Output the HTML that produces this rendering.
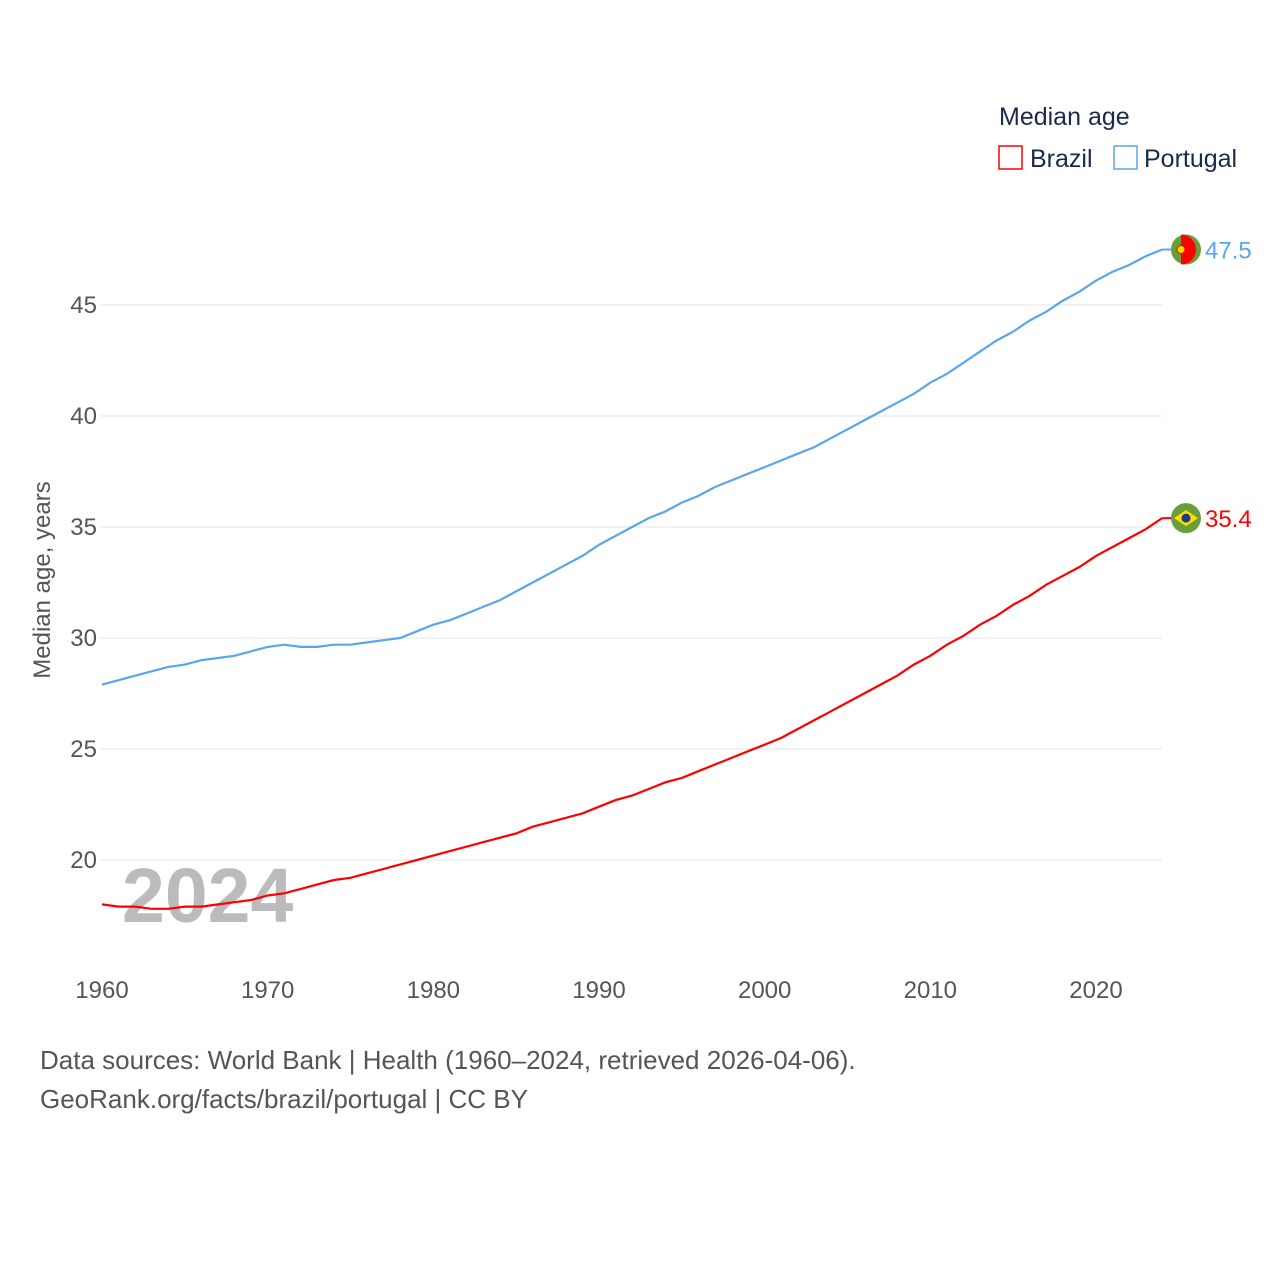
<!DOCTYPE html>
<html><head><meta charset="utf-8"><style>
body{margin:0;background:#fff;width:1280px;height:1280px;overflow:hidden;font-family:"Liberation Sans",sans-serif}
svg text{font-family:"Liberation Sans",sans-serif}
</style></head><body>
<svg id="chart" width="1280" height="1280">
<text x="999" y="125" font-size="25" fill="#1a2a4a">Median age</text>
<g><rect x="999" y="146" width="23" height="23" fill="none" stroke="#f00" stroke-width="1.5"/><text x="1030" y="167" font-size="25" fill="#1a2a4a">Brazil</text></g>
<g><rect x="1114" y="146" width="23" height="23" fill="none" stroke="#5aa5ee" stroke-width="1.5"/><text x="1144" y="167" font-size="25" fill="#1a2a4a">Portugal</text></g>
<text transform="translate(50,580) rotate(-90)" text-anchor="middle" font-size="24" fill="#555">Median age, years</text>
<text x="122" y="922" font-size="77" font-weight="bold" fill="#bbb">2024</text>
<g id="grid"></g><g id="lines"></g>
<text x="40" y="1069" font-size="26" fill="#555">Data sources: World Bank | Health (1960–2024, retrieved 2026-04-06).</text>
<text x="40" y="1108" font-size="26" fill="#555">GeoRank.org/facts/brazil/portugal | CC BY</text>
</svg>
<script>
const years=[];for(let y=1960;y<=2024;y++)years.push(y);
const portugal=[27.9,28.1,28.3,28.5,28.7,28.8,29.0,29.1,29.2,29.4,29.6,29.7,29.6,29.6,29.7,29.7,29.8,29.9,30.0,30.3,30.6,30.8,31.1,31.4,31.7,32.1,32.5,32.9,33.3,33.7,34.2,34.6,35.0,35.4,35.7,36.1,36.4,36.8,37.1,37.4,37.7,38.0,38.3,38.6,39.0,39.4,39.8,40.2,40.6,41.0,41.5,41.9,42.4,42.9,43.4,43.8,44.3,44.7,45.2,45.6,46.1,46.5,46.8,47.2,47.5];
const brazil=[18.0,17.9,17.9,17.8,17.8,17.9,17.9,18.0,18.1,18.2,18.4,18.5,18.7,18.9,19.1,19.2,19.4,19.6,19.8,20.0,20.2,20.4,20.6,20.8,21.0,21.2,21.5,21.7,21.9,22.1,22.4,22.7,22.9,23.2,23.5,23.7,24.0,24.3,24.6,24.9,25.2,25.5,25.9,26.3,26.7,27.1,27.5,27.9,28.3,28.8,29.2,29.7,30.1,30.6,31.0,31.5,31.9,32.4,32.8,33.2,33.7,34.1,34.5,34.9,35.4];
const yTicks=[20,25,30,35,40,45];
const xTicks=[1960,1970,1980,1990,2000,2010,2020];
const X=y=>102+(y-1960)*994/60, Y=v=>860-(v-20)*22.2;
const NS="http://www.w3.org/2000/svg";
const grid=document.getElementById('grid'),lines=document.getElementById('lines');
function mk(tag,at,parent){const e=document.createElementNS(NS,tag);for(const k in at)e.setAttribute(k,at[k]);parent.appendChild(e);return e;}
yTicks.forEach(t=>{
 const l=mk('line',{x1:100,x2:1162,y1:Y(t),y2:Y(t),stroke:'#e6e6e6','stroke-width':1},grid);
 
 
 const tx=mk('text',{x:97,y:Y(t)+8,'text-anchor':'end','font-size':24,fill:'#555'},grid);tx.textContent=t;
 
 
});
xTicks.forEach(t=>{
 const tx=mk('text',{x:X(t),y:998,'text-anchor':'middle','font-size':24,fill:'#555'},grid);tx.textContent=t;
 
 
});
function series(vals,color,name){
 const d=vals.map((v,i)=>(i?'L':'M')+X(years[i]).toFixed(1)+','+Y(v).toFixed(1)).join('');
 const p=mk('path',{d:d,fill:'none',stroke:color,'stroke-width':2.2},lines);
 
 
 const lv=vals[vals.length-1],ly=Y(lv);
 mk('line',{x1:X(2024),x2:1172,y1:ly,y2:ly,stroke:color,'stroke-width':2},lines);
 const c=mk('circle',{cx:1186,cy:ly,r:15,fill:'#6a9e3a'},lines);
 
 
 if(name==='portugal'){mk('path',{d:`M1181,${ly-15}A15,15 0 0 1 1181,${ly+15}Z`,fill:'#f00'},lines);mk('circle',{cx:1181,cy:ly,r:4,fill:'#fd0',stroke:'#f00'},lines);}
 else{mk('path',{d:`M1174,${ly}L1186,${ly-8}L1198,${ly}L1186,${ly+8}Z`,fill:'#fd0'},lines);mk('circle',{cx:1186,cy:ly,r:4.5,fill:'#1a3a8a'},lines);}
 const t=mk('text',{x:1205,y:ly+9,'font-size':24,fill:color},lines);t.textContent=lv.toFixed(1);
 
 
}
series(portugal,'#5aa5ee','portugal');
series(brazil,'#f00','brazil');
</script>
</body></html>
